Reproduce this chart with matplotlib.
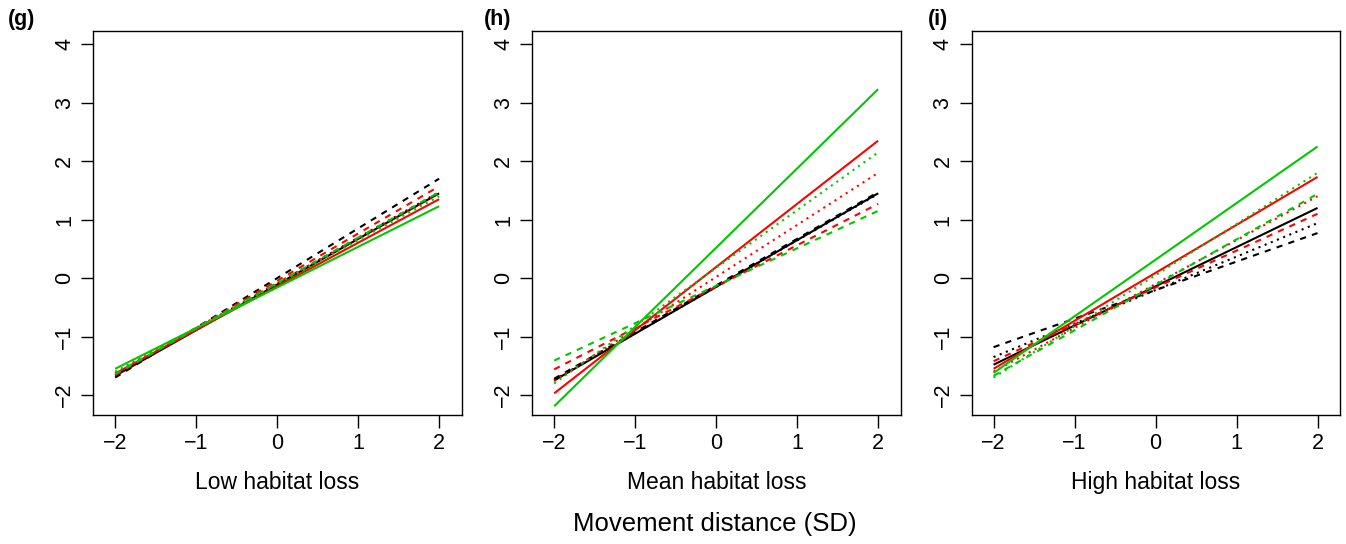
import matplotlib
matplotlib.use('Agg')
import matplotlib.pyplot as plt

plt.rcParams['font.family'] = ['Liberation Sans', 'DejaVu Sans']
plt.rcParams['axes.unicode_minus'] = True

# movement distance (SD) at the two ends of each fitted line
x_ends = [-2, 2]

panels = ['(g)', '(h)', '(i)']
xlabels = ['Low habitat loss', 'Mean habitat loss', 'High habitat loss']
colours = ['black', 'red', '#00C800']
styles = ['solid', 'dashed', 'dotted']

# predicted values at x=-2 and x=2, per colour, per line style
low_black = [[-1.67, 1.45], [-1.70, 1.70], [-1.65, 1.47]]
low_red = [[-1.63, 1.35], [-1.66, 1.57], [-1.62, 1.45]]
low_green = [[-1.55, 1.23], [-1.64, 1.47], [-1.60, 1.40]]

mean_black = [[-1.75, 1.45], [-1.72, 1.47], [-1.74, 1.44]]
mean_red = [[-1.97, 2.35], [-1.56, 1.27], [-1.76, 1.80]]
mean_green = [[-2.19, 3.23], [-1.41, 1.15], [-1.80, 2.15]]

high_black = [[-1.48, 1.20], [-1.18, 0.77], [-1.35, 0.94]]
high_red = [[-1.55, 1.73], [-1.42, 1.10], [-1.60, 1.40]]
high_green = [[-1.62, 2.25], [-1.67, 1.44], [-1.70, 1.80]]

data = [[low_black, low_red, low_green],
        [mean_black, mean_red, mean_green],
        [high_black, high_red, high_green]]

xticks = [-2, -1, 0, 1, 2]
yticks = [-2, -1, 0, 1, 2, 3, 4]

W, H = 1346, 544
fig = plt.figure(figsize=(W / 100, H / 100), dpi=100)

lefts = [93.3, 532.3, 971.7]
label_x = [8, 484, 928]
for k in range(3):
    ax = fig.add_axes([lefts[k] / W, 1 - 415 / H, 368.5 / W, 383.7 / H])
    for c, col in enumerate(colours):
        for s, ls in enumerate(styles):
            if ls == 'solid':
                dash = None
            elif ls == 'dashed':
                dash = (3, 3)
            else:
                dash = (1, 2.2)
            line, = ax.plot(x_ends, data[k][c][s], color=col, lw=1.5,
                            solid_capstyle='butt')
            if dash is not None:
                line.set_dashes(dash)
                line.set_dash_capstyle('butt')
    ax.set_xlim(-2.27, 2.28)
    ax.set_ylim(-2.34, 4.22)
    ax.set_xticks(xticks)
    ax.set_yticks(yticks)
    ax.set_xticklabels(['\u22122', '\u22121', '0', '1', '2'])
    ax.set_yticklabels(['\u22122', '\u22121', '0', '1', '2', '3', '4'],
                       rotation=90, va='center')
    ax.tick_params(direction='out', length=9, width=1, labelsize=15.5, pad=4)
    for sp in ax.spines.values():
        sp.set_linewidth(1)
    ax.set_xlabel(xlabels[k], fontsize=16.5, labelpad=12)
    fig.text(label_x[k] / W, 1 - 20 / H, panels[k], fontsize=15.5,
             fontweight='bold', ha='left', va='center')

fig.text(715 / W, 1 - 524 / H, 'Movement distance (SD)', fontsize=18.5,
         ha='center', va='center')

fig.savefig('out.png', dpi=100)
